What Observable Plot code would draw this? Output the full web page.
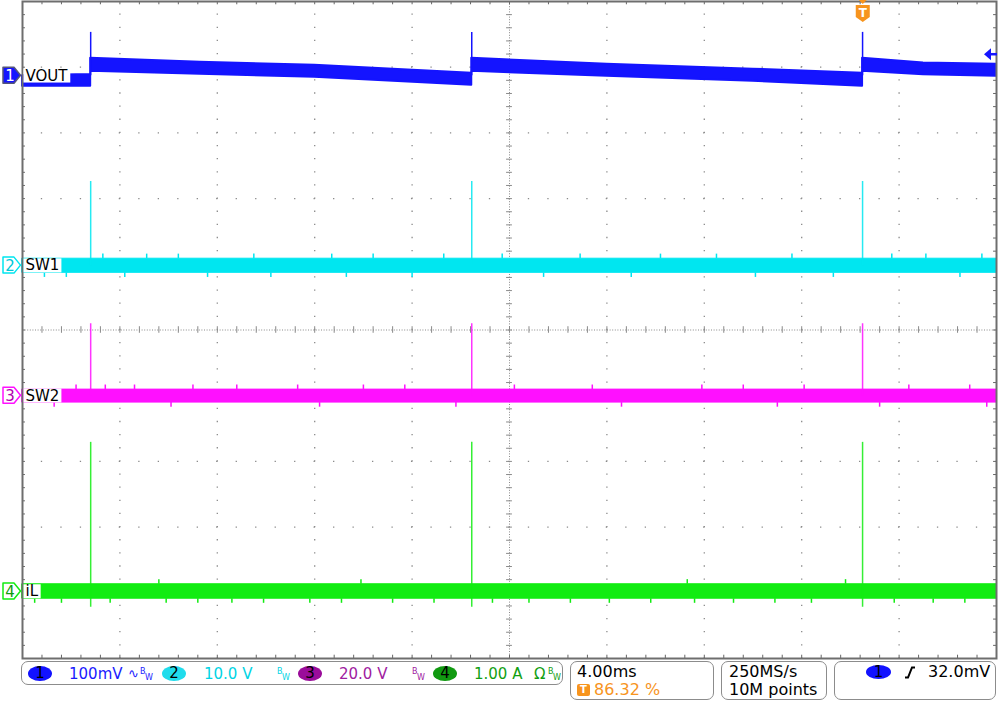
<!DOCTYPE html>
<html><head><meta charset="utf-8">
<script src="https://cdn.jsdelivr.net/npm/d3@7"></script>
<script src="https://cdn.jsdelivr.net/npm/@observablehq/plot@0.6"></script>
<style>
body{margin:0;background:#fff;font-family:"DejaVu Sans",sans-serif;}
#wrap{position:relative;width:1000px;height:707px;overflow:hidden}
#chart svg{display:block}
.box{position:absolute;border:1.5px solid #8c8c8c;border-radius:7px;box-sizing:border-box}
.t{position:absolute;font-size:16px;line-height:16px;white-space:nowrap}
.t15{position:absolute;font-size:15px;line-height:16px;white-space:nowrap}
.bw{position:absolute;font-size:8px;line-height:8px;white-space:nowrap}
.ell{position:absolute;border-radius:50%;text-align:center;font-size:15px;line-height:15px;color:#000}
</style></head>
<body><div id="wrap"><div id="chart"></div><div id="panel"></div></div>
<script>
// ---- data ----
const timePerDivMs = 4.0;
const divsX = 10, divsY = 10;
const channels = ["VOUT", "SW1", "SW2", "iL"];
const channelColors = ["#1414ff", "#00e6f0", "#ff10ff", "#12ec12"];
const channelUnitsPerDiv = [100, 10, 20, 1];          // mV, V, V, A per division
const channelOffsetDiv = [3.87, 0.98, -1.0, -3.98];   // ground markers, divisions
const channelScaleLabels = ["100mV", "10.0 V", "20.0 V", "1.00 A"];
const triggerPosPct = 86.32;
const triggerLevelMv = 32.0;
const jumpTimesMs = [2.8, 18.45, 34.5];

// VOUT envelope (ms, low mV, high mV)
const voutTime = [0, 2.8, 2.8, 7.3, 12, 18.45, 18.45, 24, 30, 34.5, 34.5, 37, 40];
const voutLo   = [-16, -16, 6.8, 2.3, -2.3, -14.5, 6.8, -0.8, -8.4, -16, 6.8, 1.5, -0.8];
const voutHi   = [0, 2, 26.6, 20.5, 16, 3.8, 26.6, 17.5, 10, 3.8, 26.6, 19.5, 17.5];
const voutSpikeMv = [66, 66, 66];

// switching nodes and inductor current: noisy band + spikes at each burst
const sw1Band = [-1.1, 1.05];   const sw1SpikeV = [12.8, 12.8, 12.8];
const sw2Band = [-2.1, 1.85];   const sw2SpikeV = [21.9, 21.9, 21.9];
const ilBand  = [-0.11, 0.11];  const ilSpikeA  = [2.27, 2.27, 2.27];
const ilSpikeMinA = [-0.24, -0.24, -0.24];

// noise fringes seen sticking out of the bands (ms), estimated
const sw1FringeUpMs   = [3.3, 5.1, 6.4, 9.5, 12.7, 14.4, 17.3, 19.7, 22.9, 26.2, 28.5, 31.6, 35.7, 37.1, 39.4];
const sw1FringeDownMs = [0.9, 1.8, 4.2, 7.6, 10.2, 13.3, 16.0, 21.4, 25.0, 30.1, 33.3, 38.5];
const sw2FringeUpMs   = [2.2, 3.4, 4.6, 7.0, 8.8, 11.3, 14.0, 15.7, 20.2, 23.4, 27.9, 29.6, 32.1, 36.4, 38.9];
const sw2FringeDownMs = [1.3, 6.1, 12.2, 17.8, 24.6, 31.0, 35.2, 39.6];
const ilFringeUpMs    = [5.6, 13.9, 27.3, 33.8];
const ilFringeDownMs  = [0.5, 1.6, 3.6, 5.9, 7.2, 8.6, 9.9, 11.8, 13.1, 15.2, 16.9, 19.3, 20.8, 22.5, 24.1, 25.8, 27.6, 29.2, 30.9, 32.4, 35.8, 37.4, 38.7];
const fringeLenDiv = 0.07;

// ---- derived tables ----
const tEnd = divsX * timePerDivMs;
const toDiv = (ch, v) => channelOffsetDiv[ch] + v / channelUnitsPerDiv[ch];
const voutRows = voutTime.map((t, i) => ({t, y1: toDiv(0, voutLo[i]), y2: toDiv(0, voutHi[i])}));
const bandRows = (ch, band) => [0, tEnd].map(t => ({t, y1: toDiv(ch, band[0]), y2: toDiv(ch, band[1])}));
const spikeRows = (ch, lo, hi) => jumpTimesMs.map((t, i) => ({t, y1: toDiv(ch, lo[i]), y2: toDiv(ch, hi[i])}));
const fringeRows = (ch, band, up, down) => [
  ...up.map(t => ({t, y1: toDiv(ch, band[1]), y2: toDiv(ch, band[1]) + fringeLenDiv})),
  ...down.map(t => ({t, y1: toDiv(ch, band[0]) - fringeLenDiv, y2: toDiv(ch, band[0])}))
];
const labelRows = channels.map((name, i) => ({name, y: channelOffsetDiv[i]}));

const majorX = d3.range(0, tEnd + 1e-9, timePerDivMs);
const majorY = d3.range(-divsY / 2, divsY / 2 + 1e-9, 1);
const minorX = d3.range(0, tEnd + 1e-9, timePerDivMs / 5);
const minorY = d3.range(-divsY / 2, divsY / 2 + 1e-9, 0.2);

const H = 660, W = 1000, mL = 22, mR = 4, mT = 1, mB = 2;
const pxDivX = (W - mL - mR) / divsX, pxDivY = (H - mT - mB) / divsY;
const gridCol = "#8a8a8a";
const xTick = timePerDivMs * 0.03, yTick = 0.05;

const bandMarks = (ch, rows, spikes, fringes) => [
  Plot.areaY(rows, {x: "t", y1: "y1", y2: "y2", fill: channelColors[ch], stroke: channelColors[ch], strokeWidth: 1}),
  Plot.ruleX(fringes, {x: "t", y1: "y1", y2: "y2", stroke: channelColors[ch], strokeWidth: 1.5}),
  Plot.ruleX(spikes, {x: "t", y1: "y1", y2: "y2", stroke: channelColors[ch], strokeWidth: 1.5, strokeOpacity: 0.85})
];

const chart = Plot.plot({
  width: W, height: H, marginLeft: mL, marginRight: mR, marginTop: mT, marginBottom: mB,
  x: {domain: [0, tEnd], axis: null},
  y: {domain: [-divsY / 2, divsY / 2], axis: null},
  marks: [
    // dotted grid
    Plot.ruleX(majorX.filter(v => v > 0 && v < tEnd && v !== tEnd / 2), {stroke: gridCol, strokeWidth: 1.3,
      strokeDasharray: `1.3 ${pxDivY / 5 - 1.3}`, strokeDashoffset: 0.65}),
    Plot.ruleY(majorY.filter(v => v > -5 && v < 5 && v !== 0), {stroke: gridCol, strokeWidth: 1.3,
      strokeDasharray: `1.3 ${pxDivX / 5 - 1.3}`, strokeDashoffset: 0.65}),
    // centre cross
    Plot.ruleX([tEnd / 2], {stroke: gridCol, strokeDasharray: "1 1.6"}),
    Plot.ruleY([0], {stroke: gridCol, strokeDasharray: "1 1.6"}),
    Plot.ruleY(minorY, {x1: tEnd / 2 - xTick, x2: tEnd / 2 + xTick, stroke: gridCol}),
    Plot.ruleX(minorX, {y1: -yTick, y2: yTick, stroke: gridCol}),
    // frame edge ticks
    Plot.ruleX(minorX, {y1: -5, y2: -5 + yTick, stroke: "#666"}),
    Plot.ruleX(minorX, {y1: 5 - yTick, y2: 5, stroke: "#666"}),
    Plot.ruleY(minorY, {x1: 0, x2: xTick, stroke: "#666"}),
    Plot.ruleY(minorY, {x1: tEnd - xTick, x2: tEnd, stroke: "#666"}),
    // traces
    Plot.areaY(voutRows, {x: "t", y1: "y1", y2: "y2", fill: channelColors[0], stroke: channelColors[0], strokeWidth: 2}),
    Plot.ruleX(spikeRows(0, [0, 0, 0], voutSpikeMv), {x: "t", y1: "y1", y2: "y2", stroke: channelColors[0], strokeWidth: 1.5}),
    ...bandMarks(1, bandRows(1, sw1Band), spikeRows(1, [0, 0, 0], sw1SpikeV), fringeRows(1, sw1Band, sw1FringeUpMs, sw1FringeDownMs)),
    ...bandMarks(2, bandRows(2, sw2Band), spikeRows(2, [0, 0, 0], sw2SpikeV), fringeRows(2, sw2Band, sw2FringeUpMs, sw2FringeDownMs)),
    ...bandMarks(3, bandRows(3, ilBand), spikeRows(3, ilSpikeMinA, ilSpikeA), fringeRows(3, ilBand, ilFringeUpMs, ilFringeDownMs)),
    Plot.frame({stroke: "#6e6e6e", strokeWidth: 2}),
    // channel names
    Plot.text(labelRows, {x: 0, y: "y", text: "name", textAnchor: "start", dx: 3, fontSize: 15,
      fontFamily: "DejaVu Sans", fill: "#000", className: "chlabel"})
  ]
});
document.getElementById("chart").appendChild(chart);

const svg = d3.select(chart);
const xs = chart.scale("x"), ys = chart.scale("y");

// white boxes behind channel names
svg.selectAll(".chlabel text").each(function () {
  const b = this.getBBox();
  d3.select(this.parentNode).insert("rect", () => this)
    .attr("transform", this.getAttribute("transform"))
    .attr("x", b.x - 2).attr("y", b.y + 2).attr("width", b.width + 4).attr("height", b.height - 4)
    .attr("fill", "#fff");
});

// channel ground markers
channels.forEach((c, i) => {
  const y = ys.apply(channelOffsetDiv[i]);
  const g = svg.append("g").attr("transform", `translate(0,${y})`);
  const filled = i === 0;
  g.append("path").attr("d", "M3,-8 H14 L20.5,0 L14,8 H3 Z")
    .attr("fill", filled ? channelColors[0] : "#fff")
    .attr("stroke", filled ? "#55557a" : channelColors[i]).attr("stroke-width", 1.5).attr("stroke-linejoin", "round");
  g.append("text").attr("x", 10).attr("y", 6).attr("text-anchor", "middle")
    .attr("font-family", "DejaVu Sans").attr("font-size", 15)
    .attr("fill", filled ? "#fff" : (i === 2 ? "#b000b0" : i === 3 ? "#109a10" : "#00c8d8")).text(i + 1);
});

// trigger position marker
const orange = "#f7941d";
const tx = xs.apply(tEnd * triggerPosPct / 100);
svg.append("path").attr("d", `M${tx - 4},0 L${tx + 4},0 L${tx},4 Z`).attr("fill", orange);
svg.append("path").attr("d", `M${tx - 7},5 H${tx + 7} V17 L${tx},22 L${tx - 7},17 Z`).attr("fill", orange);
svg.append("text").attr("x", tx).attr("y", 17).attr("text-anchor", "middle").attr("font-family", "DejaVu Sans")
  .attr("font-weight", "bold").attr("font-size", 12).attr("fill", "#fff").text("T");

// trigger level arrow
const ty = ys.apply(channelOffsetDiv[0] + triggerLevelMv / channelUnitsPerDiv[0]);
svg.append("path").attr("d", `M984,${ty} L991,${ty - 6} L991,${ty + 6} Z`).attr("fill", channelColors[0]);
svg.append("line").attr("x1", 990).attr("x2", 997).attr("y1", ty).attr("y2", ty).attr("stroke", channelColors[0]).attr("stroke-width", 2.5);

// ---- bottom status panel ----
const panel = document.getElementById("panel");
function add(html) { panel.insertAdjacentHTML("beforeend", html); }
add(`<div class="box" style="left:21px;top:661px;width:542px;height:24px"></div>`);
add(`<div class="box" style="left:570px;top:661px;width:144px;height:39px"></div>`);
add(`<div class="box" style="left:721px;top:661px;width:106px;height:39px"></div>`);
add(`<div class="box" style="left:834px;top:661px;width:162px;height:39px"></div>`);

const ellFill = ["#1212ff", "#20dcec", "#9a0c9a", "#119a11"];
const ellX = [40, 174, 310, 445];
const txtX = [69, 204, 339, 474];
const txtCol = ["#1a1aff", "#00d4e4", "#a0209f", "#12a012"];
for (let i = 0; i < 4; i++) {
  add(`<div class="ell" style="left:${ellX[i] - 12}px;top:666px;width:24px;height:15px;background:${ellFill[i]}">${i + 1}</div>`);
  add(`<div class="t15" style="left:${txtX[i]}px;top:666px;color:${txtCol[i]}">${channelScaleLabels[i]}</div>`);
}
add(`<div class="t15" style="left:128px;top:666px;color:${txtCol[0]};font-size:13px">∿</div>`);
add(`<div class="bw" style="left:140px;top:668px;color:${txtCol[0]}">B</div><div class="bw" style="left:145px;top:674px;color:${txtCol[0]}">W</div>`);
add(`<div class="bw" style="left:277px;top:668px;color:${txtCol[1]}">B</div><div class="bw" style="left:282px;top:674px;color:${txtCol[1]}">W</div>`);
add(`<div class="bw" style="left:412px;top:668px;color:${txtCol[2]}">B</div><div class="bw" style="left:417px;top:674px;color:${txtCol[2]}">W</div>`);
add(`<div class="t15" style="left:534px;top:666px;color:${txtCol[3]}">Ω</div>`);
add(`<div class="bw" style="left:548px;top:668px;color:${txtCol[3]}">B</div><div class="bw" style="left:553px;top:674px;color:${txtCol[3]}">W</div>`);

add(`<div class="t" style="left:577px;top:664px;color:#000">${timePerDivMs.toFixed(2)}ms</div>`);
add(`<div style="position:absolute;left:577px;top:684px;width:13px;height:12px;background:${orange};border-radius:2px;color:#fff;font:bold 10px 'DejaVu Sans';line-height:12px;text-align:center">T</div>`);
add(`<div class="t" style="left:594px;top:682px;color:${orange}">${triggerPosPct.toFixed(2)} %</div>`);
add(`<div class="t" style="left:729px;top:664px;color:#000">250MS/s</div>`);
add(`<div class="t" style="left:729px;top:682px;color:#000">10M points</div>`);
add(`<div class="ell" style="left:866px;top:665px;width:25px;height:14px;line-height:14px;background:${ellFill[0]}">1</div>`);
add(`<svg style="position:absolute;left:903px;top:666px" width="14" height="13"><path d="M2,11.5 H5 L9,1.5 H12" fill="none" stroke="#000" stroke-width="2"/></svg>`);
add(`<div class="t" style="left:928px;top:664px;color:#000">${triggerLevelMv.toFixed(1)}mV</div>`);
</script></body></html>
